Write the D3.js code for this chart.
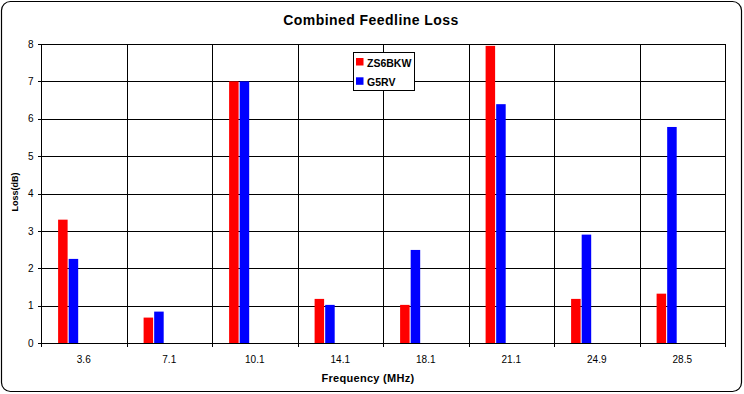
<!DOCTYPE html>
<html>
<head>
<meta charset="utf-8">
<script src="https://cdn.jsdelivr.net/npm/d3@7"></script>
<style>
  body { margin: 0; background: #fff; }
  svg { display: block; font-family: "Liberation Sans", Arial, sans-serif; }
</style>
</head>
<body>
<div id="chart"></div>
<script>
// chart data
const frequencies = ["3.6", "7.1", "10.1", "14.1", "18.1", "21.1", "24.9", "28.5"];
const seriesNames = ["ZS6BKW", "G5RV"];
const zs6bkwLoss = [3.30, 0.68, 7.00, 1.18, 1.02, 7.95, 1.18, 1.32];
const g5rvLoss = [2.25, 0.84, 7.00, 1.02, 2.49, 6.39, 2.90, 5.78];
const yTicks = [0, 1, 2, 3, 4, 5, 6, 7, 8];
const seriesColors = ["#ff0000", "#0000ff"];

const width = 744, height = 394;
const plot = { left: 41, right: 725, top: 44, bottom: 343 };

const svg = d3.select("#chart").append("svg")
    .attr("width", width)
    .attr("height", height);

// outer frame
svg.append("rect")
    .attr("x", 1.5).attr("y", 1.5)
    .attr("width", 740).attr("height", 390)
    .attr("rx", 9).attr("ry", 9)
    .attr("fill", "#fff")
    .attr("stroke", "#000")
    .attr("stroke-width", 1.2);

const x0 = d3.scaleBand()
    .domain(frequencies)
    .range([plot.left, plot.right])
    .padding(0);

const x1 = d3.scaleBand()
    .domain(seriesNames)
    .range([0.2 * x0.bandwidth(), 0.435 * x0.bandwidth()])
    .paddingInner(0.1);

const y = d3.scaleLinear()
    .domain([0, 8])
    .range([plot.bottom, plot.top]);

const rows = frequencies.map((f, i) => ({ freq: f, values: [zs6bkwLoss[i], g5rvLoss[i]] }));

// gridlines
const grid = svg.append("g").attr("shape-rendering", "crispEdges");
grid.selectAll(".hgrid").data(yTicks).enter().append("line")
    .attr("x1", plot.left).attr("x2", plot.right)
    .attr("y1", d => Math.round(y(d)) + 0.5)
    .attr("y2", d => Math.round(y(d)) + 0.5)
    .attr("stroke", "#000");
grid.selectAll(".vgrid").data(frequencies.concat(["end"])).enter().append("line")
    .attr("x1", d => Math.round(d === "end" ? plot.right : x0(d)) + 0.5)
    .attr("x2", d => Math.round(d === "end" ? plot.right : x0(d)) + 0.5)
    .attr("y1", plot.top).attr("y2", plot.bottom)
    .attr("stroke", "#000");

// bars
const groups = svg.append("g").selectAll("g").data(rows).enter().append("g")
    .attr("transform", d => `translate(${x0(d.freq)},0)`);
groups.selectAll("rect")
    .data(d => d.values.map((v, i) => ({ name: seriesNames[i], value: v, i })))
    .enter().append("rect")
    .attr("x", d => x1(d.name))
    .attr("width", x1.bandwidth())
    .attr("y", d => y(d.value))
    .attr("height", d => y(0) - y(d.value))
    .attr("fill", d => seriesColors[d.i]);

// y axis
const yAxis = svg.append("g")
    .attr("transform", `translate(${plot.left + 0.5},0)`)
    .call(d3.axisLeft(y).tickValues(yTicks).tickSize(4).tickPadding(4).tickFormat(d3.format("d")));
yAxis.select(".domain").remove();
yAxis.selectAll("line").attr("stroke", "#000").attr("shape-rendering", "crispEdges");
yAxis.selectAll("text").attr("font-size", 10).attr("fill", "#000")
    .attr("font-family", "Liberation Sans, Arial, sans-serif");

// x axis: ticks on category boundaries
const boundaries = d3.range(frequencies.length + 1).map(i => plot.left + i * x0.step());
const xTickGroup = svg.append("g").attr("shape-rendering", "crispEdges");
xTickGroup.selectAll("line").data(boundaries).enter().append("line")
    .attr("x1", d => Math.round(d) + 0.5).attr("x2", d => Math.round(d) + 0.5)
    .attr("y1", plot.bottom).attr("y2", plot.bottom + 4)
    .attr("stroke", "#000");
svg.append("g").selectAll("text").data(frequencies).enter().append("text")
    .attr("x", d => x0(d) + x0.bandwidth() / 2)
    .attr("y", 362.5)
    .attr("text-anchor", "middle")
    .attr("font-size", 10)
    .text(d => d);

// title and axis titles
svg.append("text")
    .attr("x", 371).attr("y", 25)
    .attr("text-anchor", "middle")
    .attr("font-size", 14)
    .attr("font-weight", "bold")
    .attr("letter-spacing", 0.45)
    .text("Combined Feedline Loss");

svg.append("text")
    .attr("x", 368).attr("y", 382)
    .attr("text-anchor", "middle")
    .attr("font-size", 11)
    .attr("font-weight", "bold")
    .attr("letter-spacing", 0.3)
    .text("Frequency (MHz)");

svg.append("text")
    .attr("transform", "translate(18,192) rotate(-90)")
    .attr("text-anchor", "middle")
    .attr("font-size", 9)
    .attr("font-weight", "bold")
    .text("Loss(dB)");

// legend
const legend = svg.append("g").attr("transform", "translate(353,52)");
legend.append("rect")
    .attr("x", 0.5).attr("y", 0.5)
    .attr("width", 61).attr("height", 38)
    .attr("fill", "#fff").attr("stroke", "#000")
    .attr("shape-rendering", "crispEdges");
const items = legend.selectAll(".item").data(seriesNames).enter().append("g")
    .attr("transform", (d, i) => `translate(3,${6 + i * 19.3})`);
items.append("rect")
    .attr("width", 7.5).attr("height", 7.5)
    .attr("fill", (d, i) => seriesColors[i]);
items.append("text")
    .attr("x", 11).attr("y", 8.5)
    .attr("font-size", 10.5)
    .attr("font-weight", "bold")
    .text(d => d);
</script>
</body>
</html>
